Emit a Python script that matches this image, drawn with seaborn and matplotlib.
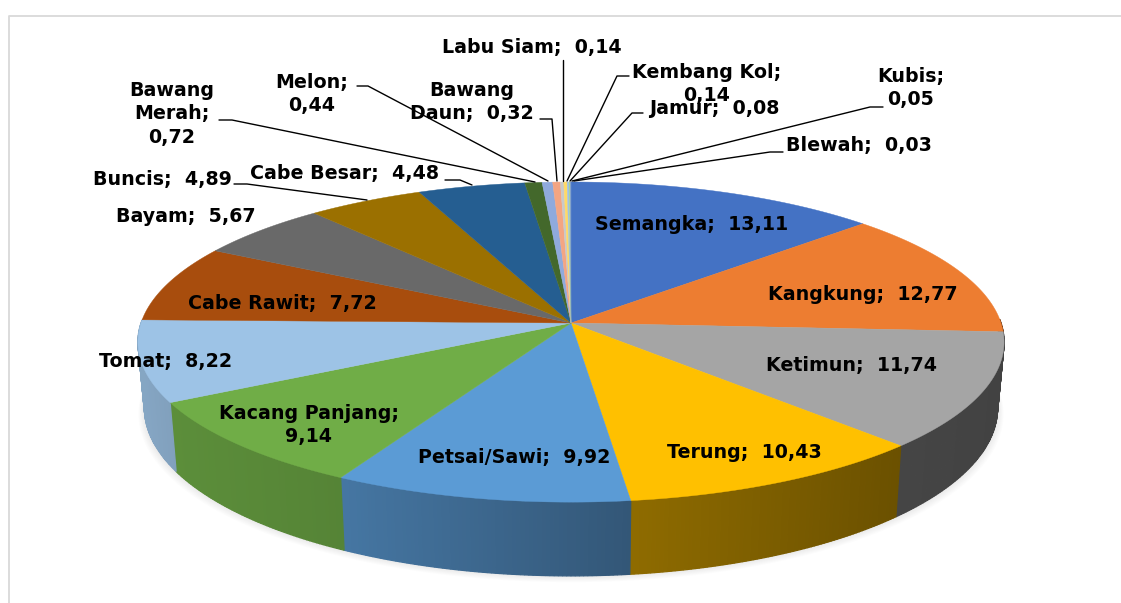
import numpy as np
import matplotlib
matplotlib.use("Agg")
import matplotlib.pyplot as plt
from matplotlib.patches import Polygon
import seaborn as sns

# Data
names = ['Semangka', 'Kangkung', 'Ketimun', 'Terung', 'Petsai/Sawi', 'Kacang Panjang', 'Tomat',
         'Cabe Rawit', 'Bayam', 'Buncis', 'Cabe Besar', 'Bawang\nMerah', 'Melon', 'Bawang\nDaun',
         'Labu Siam', 'Kembang Kol', 'Jamur', 'Kubis', 'Blewah']
values = [13.11, 12.77, 11.74, 10.43, 9.92, 9.14, 8.22, 7.72, 5.67, 4.89, 4.48,
          0.72, 0.44, 0.32, 0.14, 0.14, 0.08, 0.05, 0.03]
separators = [';  ', ';  ', ';  ', ';  ', ';  ', ';\n', ';  ', ';  ', ';  ', ';  ', ';  ',
              ';\n', ';\n', ';  ', ';  ', ';\n', ';  ', ';\n', ';  ']
colors = ['#4472C4', '#ED7D31', '#A5A5A5', '#FFC000', '#5B9BD5', '#70AD47', '#9DC3E6',
          '#A84D0D', '#696969', '#9B7000', '#255E91', '#43682B', '#8FAADC', '#F4A582',
          '#C9C9C9', '#FFD966', '#9DC3E6', '#A9D18E', '#7C9CCF']

# Label centres, in figure pixels
label_xy = [(692, 225), (863, 295), (852, 366), (744, 453), (514, 457), (309, 425), (166, 361),
            (282, 303), (186, 216), (162, 179), (345, 173), (172, 114), (312, 94), (472, 102),
            (532, 48), (707, 84), (714, 109), (911, 88), (859, 146)]

# Leader lines from label to rim
leaders = [[(234, 184), (247, 184), (367, 200)],
           [(445, 180), (460, 180), (472, 185)],
           [(219, 120), (232, 120), (535, 182)],
           [(357, 86), (368, 86), (548, 181)],
           [(540, 119), (552, 119), (557, 181)],
           [(563, 60), (563, 181)],
           [(629, 76), (617, 76), (567, 181)],
           [(643, 113), (632, 113), (570, 181)],
           [(883, 107), (870, 107), (572, 181)],
           [(783, 152), (770, 152), (574, 181)]]

# Pie geometry with a bit of perspective
cx, cy = 571, 323
rx, ry = 430, 157.8
persp = 0.119
depth = 65


def top_point(theta):
    u, v = np.sin(theta), np.cos(theta)
    d = 1 + persp * v
    return cx + rx * u / d, cy - ry * v / d


def bottom_point(theta):
    x, y = top_point(theta)
    v = np.cos(theta)
    return cx + (x - cx) * 0.985, y + depth / (1 + persp * v)


def wall_shade(x):
    return np.interp(x, [140, 172, 345, 630, 900, 1004], [.85, .82, .76, .56, .42, .40])


sns.set_theme(style='white')
plt.rcParams['font.family'] = ['DejaVu Sans']
palette = sns.color_palette(colors)

fig = plt.figure(figsize=(11.21, 6.03), dpi=100)
ax = fig.add_axes([0, 0, 1, 1])
ax.set_xlim(0, 1121)
ax.set_ylim(603, 0)
ax.axis('off')

# chart area border
ax.plot([8.5, 8.5, 1125], [610, 15.5, 15.5], color='#D9D9D9', lw=1.3, zorder=1)

# soft shadow under the pie
angles = np.radians(np.linspace(85, 275, 200))
bx, by = bottom_point(angles)
for i in range(7, 0, -1):
    pts = np.column_stack([cx + (bx - cx) * (1 + i * 0.002), by + i * 0.9])
    ax.add_patch(Polygon(pts, closed=True, fc='#808080', ec='none', alpha=0.025, zorder=2))

edges = np.radians(np.concatenate([[0], np.cumsum(values)]) / np.sum(values) * 360)

# side wall, cut in thin strips for the shading
for start, end, col in zip(edges[:-1], edges[1:], palette):
    n = max(int(np.degrees(end - start) * 2), 1)
    tt = np.linspace(start, end, n + 1)
    for a, b in zip(tt[:-1], tt[1:]):
        if np.cos((a + b) / 2) > 0.02:
            continue
        xa, ya = top_point(a)
        xb, yb = top_point(b)
        xc, yc = bottom_point(b)
        xd, yd = bottom_point(a)
        s = wall_shade((xa + xb) / 2)
        shade = tuple(c * s for c in col)
        ax.add_patch(Polygon([(xa, ya), (xb, yb), (xc, yc), (xd, yd)], closed=True,
                             fc=shade, ec=shade, lw=0.9, zorder=3))

# top surface
for start, end, col in zip(edges[:-1], edges[1:], palette):
    tt = np.linspace(start, end, max(int(np.degrees(end - start) * 2), 2) + 1)
    xs, ys = top_point(tt)
    pts = np.column_stack([np.r_[cx, xs], np.r_[cy, ys]])
    ax.add_patch(Polygon(pts, closed=True, fc=col, ec=col, lw=0.3, zorder=4))

for line in leaders:
    xs, ys = zip(*line)
    ax.plot(xs, ys, color='black', lw=1.0, zorder=5)

# same size for every label, the reference lets 0,14 run into Jamur
for name, val, sep, (x, y) in zip(names, values, separators, label_xy):
    label = name + sep + f"{val:.2f}".replace('.', ',')
    ax.text(x, y, label, ha='center', va='center', fontsize=13.7, fontweight='bold',
            color='black', linespacing=1.3, zorder=6)

fig.savefig('out.png', dpi=100)
